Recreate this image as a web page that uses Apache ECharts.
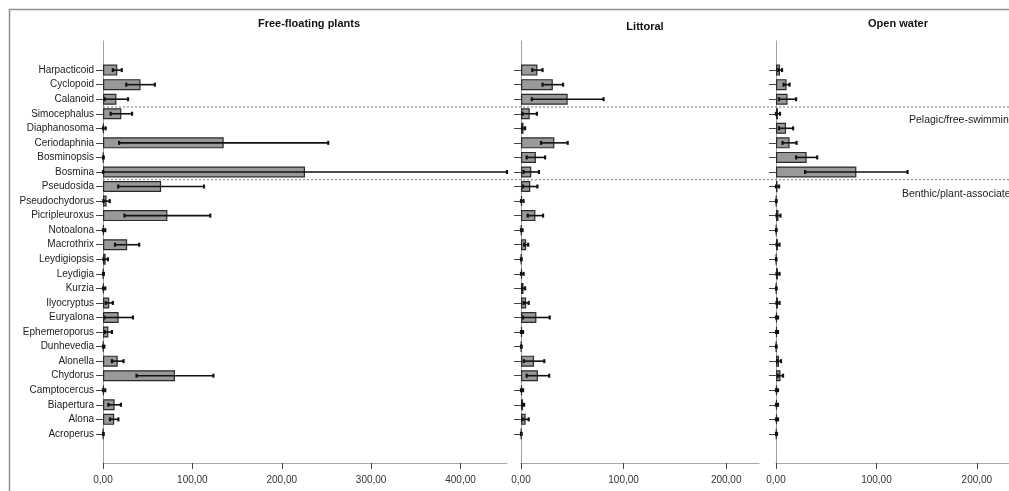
<!DOCTYPE html>
<html>
<head>
<meta charset="utf-8">
<script src="https://cdn.jsdelivr.net/npm/echarts@6/dist/echarts.min.js"></script>
<style>
html,body{margin:0;padding:0;background:#fff;}
#c{width:1009px;height:491px;}
</style>
</head>
<body>
<div id="c"></div>
<script>
// ---- data (top to bottom) ----
const categories = ['Harpacticoid','Cyclopoid','Calanoid','Simocephalus','Diaphanosoma','Ceriodaphnia','Bosminopsis','Bosmina','Pseudosida','Pseudochydorus','Picripleuroxus','Notoalona','Macrothrix','Leydigiopsis','Leydigia','Kurzia','Ilyocryptus','Euryalona','Ephemeroporus','Dunhevedia','Alonella','Chydorus','Camptocercus','Biapertura','Alona','Acroperus'];

const panelTitles = ['Free-floating plants', 'Littoral', 'Open water'];

const floatingMean = [16, 42, 15, 20.5, 1, 135, 0.5, 226, 65, 4, 72, 1, 27, 3, 0.5, 1, 7, 17.5, 6, 0.5, 16.5, 80.5, 1, 13, 12.5, 0.3];
const floatingErr  = [5, 16, 13, 12, 2, 117, 0.3, 226, 48, 3.5, 48, 1.5, 13.5, 2.5, 0.5, 1.5, 4, 16, 4, 1, 6.5, 43, 1.5, 7, 4.7, 0.5];

const littoralMean = [16, 31, 45.5, 8.5, 2.5, 32.5, 14.5, 10, 9, 1, 14, 0.5, 5, 0.3, 1, 2.5, 5, 15, 1, 0.3, 12.7, 16.5, 1, 2, 4.5, 0.3];
const littoralErr  = [5, 10, 35, 7, 1.5, 13, 9, 7.5, 7, 1.5, 7.5, 1, 2, 0.3, 1.5, 1.5, 2.5, 13, 1, 0.3, 10, 11, 1, 1, 3, 0.3];

const openMean = [4, 10.5, 11.5, 2, 10, 13.5, 30.5, 80, 1.5, 0.3, 2.5, 0.3, 2, 0.2, 2, 0.3, 2, 1, 1, 0.3, 3, 4.5, 1, 1, 1, 0.5];
const openErr  = [2, 3, 8.5, 2, 7, 7, 10.5, 51, 1.5, 0.3, 2, 0.3, 1.5, 0.2, 1.5, 0.3, 1.5, 1, 1, 0.3, 2, 2.5, 1, 1, 1, 0.5];

const xTicksWide = [0, 100, 200, 300, 400];
const xTicksNarrow = [0, 100, 200];
const xMax = [452, 232, 232];

const groupLabels = ['Pelagic/free-swimming', 'Benthic/plant-associated'];
const groupBreaks = [['Calanoid', 'Simocephalus'], ['Bosmina', 'Pseudosida']];

// ---- build ----
const PAD = 2;
const axisCats = [];
for (let i = 0; i < PAD; i++) axisCats.push(' '.repeat(i + 1));
categories.forEach(c => axisCats.push(c));
for (let i = 0; i < PAD; i++) axisCats.push(' '.repeat(i + 10));

const means = [floatingMean, littoralMean, openMean];
const errs = [floatingErr, littoralErr, openErr];
const FONT = 'Liberation Sans, Arial, sans-serif';

const grids = [
  {left: 103, top: 41, width: 404, height: 422},
  {left: 521, top: 41, width: 238, height: 422},
  {left: 776, top: 41, width: 238, height: 422}
];

const xAxes = grids.map((g, i) => ({
  type: 'value', gridIndex: i, min: 0, max: xMax[i],
  splitLine: {show: false},
  axisLine: {show: true, lineStyle: {color: '#a8a8a8', width: 1}},
  axisTick: {show: true, length: 6, lineStyle: {color: '#444'}, customValues: i === 0 ? xTicksWide : xTicksNarrow},
  axisLabel: {
    customValues: i === 0 ? xTicksWide : xTicksNarrow,
    margin: 12, fontSize: 10, color: '#333', fontFamily: FONT,
    formatter: v => v.toFixed(2).replace('.', ',')
  }
}));

const yAxes = grids.map((g, i) => ({
  type: 'category', gridIndex: i, data: axisCats, inverse: true, boundaryGap: false,
  axisLine: {show: true, lineStyle: {color: '#a0a0a0', width: 1}},
  axisTick: {show: true, length: 7, lineStyle: {color: '#444'},
    interval: (idx) => idx >= PAD && idx < PAD + categories.length},
  axisLabel: {show: i === 0, interval: 0, fontSize: 10, color: '#222', fontFamily: FONT, margin: 9},
  splitLine: {show: false}
}));

function pad(arr) {
  const out = [];
  for (let i = 0; i < PAD; i++) out.push('-');
  arr.forEach(v => out.push(v));
  for (let i = 0; i < PAD; i++) out.push('-');
  return out;
}

function renderError(params, api) {
  const yi = api.value(2);
  const lo = api.coord([api.value(0), yi]);
  const hi = api.coord([api.value(1), yi]);
  const h = 2;
  const st = {stroke: '#111', lineWidth: 1.6};
  const cap = {stroke: '#111', lineWidth: 2.2};
  return {
    type: 'group',
    children: [
      {type: 'line', shape: {x1: lo[0], y1: lo[1], x2: hi[0], y2: hi[1]}, style: st},
      {type: 'line', shape: {x1: lo[0], y1: lo[1] - h, x2: lo[0], y2: lo[1] + h}, style: cap},
      {type: 'line', shape: {x1: hi[0], y1: hi[1] - h, x2: hi[0], y2: hi[1] + h}, style: cap}
    ]
  };
}

const series = [];
for (let p = 0; p < 3; p++) {
  series.push({
    type: 'bar', xAxisIndex: p, yAxisIndex: p,
    data: pad(means[p]), barWidth: 11,
    itemStyle: {color: '#999999', borderColor: '#2a2a2a', borderWidth: 1.2},
    silent: true, animation: false, z: 3
  });
  series.push({
    type: 'custom', xAxisIndex: p, yAxisIndex: p,
    renderItem: renderError, clip: false,
    encode: {x: [0, 1], y: 2},
    data: means[p].map((m, i) => [Math.max(0, m - errs[p][i]), m + errs[p][i], i + PAD]),
    silent: true, animation: false, z: 5
  });
}

const titleX = [309, 645, 898];
const titleY = [24, 27, 24];

const chart = echarts.init(document.getElementById('c'), null, {renderer: 'canvas'});
chart.setOption({
  backgroundColor: '#fff',
  animation: false,
  grid: grids,
  xAxis: xAxes,
  yAxis: yAxes,
  series: series
});

// group separators and labels, positioned through the category axis
const graphics = [
  {type: 'rect', shape: {x: 9.5, y: 9.5, width: 1200, height: 700}, style: {fill: 'none', stroke: '#909090', lineWidth: 1.5}, z: 0}
];
panelTitles.forEach((t, i) => {
  graphics.push({type: 'text', x: titleX[i], y: titleY[i],
    style: {text: t, fontSize: 11, fontWeight: 'bold', fontFamily: FONT, fill: '#111', align: 'center', verticalAlign: 'middle'}, z: 10});
});
const lineX0 = chart.convertToPixel({xAxisIndex: 0}, 0);
groupBreaks.forEach((pair, k) => {
  const y1 = chart.convertToPixel({yAxisIndex: 0}, pair[0]);
  const y2 = chart.convertToPixel({yAxisIndex: 0}, pair[1]);
  const y = (y1 + y2) / 2 + 0.5;
  graphics.push({type: 'line', shape: {x1: lineX0, y1: y, x2: 1009, y2: y},
    style: {stroke: '#777', lineWidth: 1, lineDash: [2, 2]}, z: 1});
});
const yl1 = (chart.convertToPixel({yAxisIndex: 0}, groupBreaks[0][0]) + chart.convertToPixel({yAxisIndex: 0}, groupBreaks[0][1])) / 2;
const yl2 = (chart.convertToPixel({yAxisIndex: 0}, groupBreaks[1][0]) + chart.convertToPixel({yAxisIndex: 0}, groupBreaks[1][1])) / 2;
graphics.push({type: 'text', x: 909, y: yl1 + 14,
  style: {text: groupLabels[0], fontSize: 10.5, fontFamily: FONT, fill: '#222', align: 'left', verticalAlign: 'middle'}, z: 10});
graphics.push({type: 'text', x: 902, y: yl2 + 15,
  style: {text: groupLabels[1], fontSize: 10.5, fontFamily: FONT, fill: '#222', align: 'left', verticalAlign: 'middle'}, z: 10});

chart.setOption({graphic: graphics});
</script>
</body>
</html>
